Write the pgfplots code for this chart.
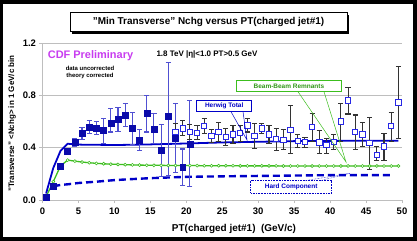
\documentclass[border=0pt]{standalone}
\usepackage{pgfplots}
\pgfplotsset{compat=1.18}
\usepackage{fontspec}
\setmainfont{Liberation Sans}
\definecolor{dblue}{RGB}{10,10,170}
\definecolor{eblue}{RGB}{80,80,210}
\definecolor{oblue}{RGB}{40,40,230}
\definecolor{hblue}{RGB}{0,0,200}
\definecolor{bgreen}{RGB}{60,190,30}
\definecolor{cdfv}{RGB}{200,60,240}
\definecolor{gridc}{RGB}{190,190,190}
\begin{document}
\begin{tikzpicture}
\begin{scope}[x=1bp,y=-1bp]
\path[use as bounding box] (0,0) rectangle (417,241);
\fill[black] (0,0) rectangle (417,241);
\fill[white] (3.5,3.5) rectangle (412.5,237);
\end{scope}
\begin{axis}[
  at={(42.5bp,-200bp)}, anchor=south west,
  scale only axis, width=359.5bp, height=157bp,
  xmin=0, xmax=50, ymin=0, ymax=1.2,
  axis x line=bottom, axis y line=left,
  axis line style={gridc, line width=0.8pt, -},
  xtick={0,5,...,50}, ytick={0,0.4,0.8,1.2},
  yticklabels={0.0,0.4,0.8,1.2},
  tick style={gridc, line width=0.8pt},
  major tick length=3bp, tick align=outside,
  ymajorgrids, grid style={gridc, line width=0.8pt},
  /pgf/number format/assume math mode=true,
  ticklabel style={font=\fontsize{9.5}{11}\selectfont\bfseries},
  xticklabel style={yshift=-1bp},
  clip=false,
]
% Hard component
\addplot[hblue, line width=2.4pt, dash pattern=on 7bp off 4bp] coordinates {
(1.5,0.105)(2.5,0.115)(3.5,0.12)(5,0.13)(7.5,0.14)(10,0.152)(12.5,0.16)(15,0.167)
(17.5,0.172)(20,0.177)(25,0.181)(30,0.184)(35,0.187)(40,0.19)(48.5,0.19)};
% Beam-beam remnants
\addplot[bgreen, line width=1.3pt, mark=*, mark size=1.5pt, mark options={fill=white, line width=0.6pt}] coordinates {
(0.5,0.025)(1.5,0.14)(2.5,0.26)(3.5,0.305)(4.5,0.297)(5.5,0.29)(6.5,0.285)(7.5,0.28)
(8.5,0.277)(9.5,0.274)(10.5,0.272)(11.5,0.27)(12.5,0.268)(13.5,0.267)(14.5,0.266)
(15.5,0.265)(16.5,0.265)(17.5,0.264)(18.5,0.264)(19.5,0.263)(20.5,0.263)(21.5,0.263)
(22.5,0.262)(23.5,0.262)(24.5,0.262)(25.5,0.262)(26.5,0.262)(27.5,0.261)(28.5,0.261)
(29.5,0.261)(30.5,0.261)(31.5,0.261)(32.5,0.261)(33.5,0.26)(34.5,0.26)(35.5,0.26)
(36.5,0.26)(37.5,0.26)(38.5,0.26)(39.5,0.26)(40.5,0.26)(41.5,0.26)(42.5,0.26)
(43.5,0.26)(44.5,0.26)(45.5,0.26)(46.5,0.26)(47.5,0.26)(48.5,0.26)(49.5,0.26)};
% Herwig total
\addplot[hblue, line width=1.8pt] coordinates {
(0.5,0.05)(1.5,0.245)(2.5,0.375)(3.5,0.43)(4.5,0.425)(5.5,0.423)(7.5,0.422)(10,0.42)
(15,0.425)(20,0.432)(25,0.44)(30,0.445)(35,0.45)(40,0.452)(49.5,0.453)};
% Data set 1 (filled)
\addplot[only marks, mark=square*, mark size=3pt, color=dblue,
  error bars/.cd, y dir=both, y explicit,
  error bar style={eblue, line width=1.1pt},
  error mark options={rotate=90, mark size=2.6pt, eblue, line width=1.1pt}]
coordinates {
(0.5,0.025) += (0,0.01) -= (0,0.01)
(1.5,0.107) += (0,0.015) -= (0,0.015)
(2.5,0.26) += (0,0.02) -= (0,0.02)
(3.5,0.37) += (0,0.025) -= (0,0.025)
(4.5,0.44) += (0,0.03) -= (0,0.03)
(5.5,0.51) += (0,0.045) -= (0,0.045)
(6.5,0.56) += (0,0.05) -= (0,0.05)
(7.5,0.55) += (0,0.05) -= (0,0.05)
(8.5,0.53) += (0,0.09) -= (0,0.10)
(9.5,0.585) += (0,0.115) -= (0,0.065)
(10.5,0.616) += (0,0.09) -= (0,0.095)
(11.5,0.65) += (0,0.09) -= (0,0.09)
(12.5,0.547) += (0,0.12) -= (0,0.12)
(13.5,0.46) += (0,0.08) -= (0,0.08)
(14.5,0.66) += (0,0.14) -= (0,0.14)
(15.5,0.54) += (0,0.12) -= (0,0.11)
(16.5,0.38) += (0,0.20) -= (0,0.20)
(17.5,0.64) += (0,0.41) -= (0,0.45)
(18.5,0.47) += (0,0.27) -= (0,0.26)
(19.5,0.25) += (0,0.14) -= (0,0.14)
(20.5,0.43) += (0,0.33) -= (0,0.33)
};
% Data set 2 (open)
\addplot[only marks, mark=square*, mark size=2.7pt, mark options={fill=white, draw=oblue, line width=1pt},
  error bars/.cd, y dir=both, y explicit,
  error bar style={black!80, line width=1.1pt},
  error mark options={rotate=90, mark size=2.6pt, black!80, line width=1.1pt}]
coordinates {
(18.5,0.52) += (0,0.065) -= (0,0.06)
(19.5,0.547) += (0,0.058) -= (0,0.057)
(20.5,0.52) += (0,0.06) -= (0,0.06)
(21.5,0.51) += (0,0.06) -= (0,0.05)
(22.5,0.565) += (0,0.055) -= (0,0.055)
(23.5,0.49) += (0,0.05) -= (0,0.05)
(24.5,0.52) += (0,0.07) -= (0,0.075)
(25.5,0.48) += (0,0.067) -= (0,0.06)
(26.5,0.50) += (0,0.07) -= (0,0.07)
(27.5,0.51) += (0,0.06) -= (0,0.065)
(28.5,0.57) += (0,0.05) -= (0,0.05)
(29.5,0.49) += (0,0.095) -= (0,0.095)
(30.5,0.547) += (0,0.038) -= (0,0.037)
(31.5,0.50) += (0,0.07) -= (0,0.07)
(32.5,0.466) += (0,0.081) -= (0,0.086)
(33.5,0.46) += (0,0.08) -= (0,0.073)
(34.5,0.534) += (0,0.191) -= (0,0.178)
(35.5,0.453) += (0,0.047) -= (0,0.053)
(36.5,0.445) += (0,0.035) -= (0,0.045)
(37.5,0.56) += (0,0.10) -= (0,0.11)
(38.5,0.44) += (0,0.09) -= (0,0.084)
(39.5,0.42) += (0,0.05) -= (0,0.064)
(40.5,0.445) += (0,0.055) -= (0,0.058)
(41.5,0.60) += (0,0.14) -= (0,0.155)
(42.5,0.76) += (0,0.10) -= (0,0.103)
(43.5,0.52) += (0,0.13) -= (0,0.133)
(44.5,0.50) += (0,0.09) -= (0,0.09)
(45.5,0.437) += (0,0.193) -= (0,0.207)
(46.5,0.343) += (0,0.067) -= (0,0.038)
(47.5,0.41) += (0,0.10) -= (0,0.105)
(48.5,0.567) += (0,0.103) -= (0,0.117)
(49.5,0.745) += (0,0.275) -= (0,0.275)
};
\end{axis}
\begin{scope}[x=1bp,y=-1bp]
% title box
\fill[black] (72,14.7) rectangle (349,33.7);
\draw[black, fill=white, line width=0.6pt] (70,12.7) rectangle (347,31.7);
\node[font=\fontsize{10}{12}\selectfont\bfseries] at (208.5,22.2) {"Min Transverse" Nchg versus PT(charged jet\#1)};
% y label
\node[rotate=90, font=\fontsize{8}{10}\selectfont\bfseries] at (12,123.5) {"Transverse" <Nchg> in 1 GeV/c bin};
% x label
\node[font=\fontsize{10}{12}\selectfont\bfseries] at (234,229) {PT(charged jet\#1)\ \ (GeV/c)};
% CDF
\node[font=\fontsize{11}{13}\selectfont\bfseries, text=cdfv] at (90.5,56) {CDF Preliminary};
\node[font=\fontsize{6}{7}\selectfont\bfseries, align=center] at (90,72) {data uncorrected\\theory corrected};
\node[font=\fontsize{8}{9.5}\selectfont\bfseries] at (207,54.3) {1.8 TeV |η|<1.0 PT>0.5 GeV};
% Herwig total callout
\draw[hblue, line width=0.5pt] (231,111.7) -- (247,140) -- (243,111.7);
\draw[hblue, fill=white, line width=0.6pt] (196.7,100) rectangle (251.7,111.7);
\node[font=\fontsize{6.5}{8}\selectfont\bfseries, text=hblue] at (224.2,105.9) {Herwig Total};
% Beam-Beam remnants callout
\draw[bgreen, line width=0.5pt] (298,91.7) -- (346,162) -- (324,91.7);
\draw[bgreen, fill=white, line width=0.6pt] (236.7,80) rectangle (341,91.7);
\node[font=\fontsize{6.5}{8}\selectfont\bfseries, text=bgreen!80!black] at (288.9,85.9) {Beam-Beam Remnants};
% Hard component callout
\draw[hblue, line width=0.5pt, densely dotted] (305,180.7) -- (350,173.3) -- (320,180.7);
\draw[hblue, fill=white, line width=0.6pt, densely dotted] (250.7,180.7) rectangle (331.7,193);
\node[font=\fontsize{6.5}{8}\selectfont\bfseries, text=hblue] at (291.2,186.9) {Hard Component};
\end{scope}
\end{tikzpicture}
\end{document}
